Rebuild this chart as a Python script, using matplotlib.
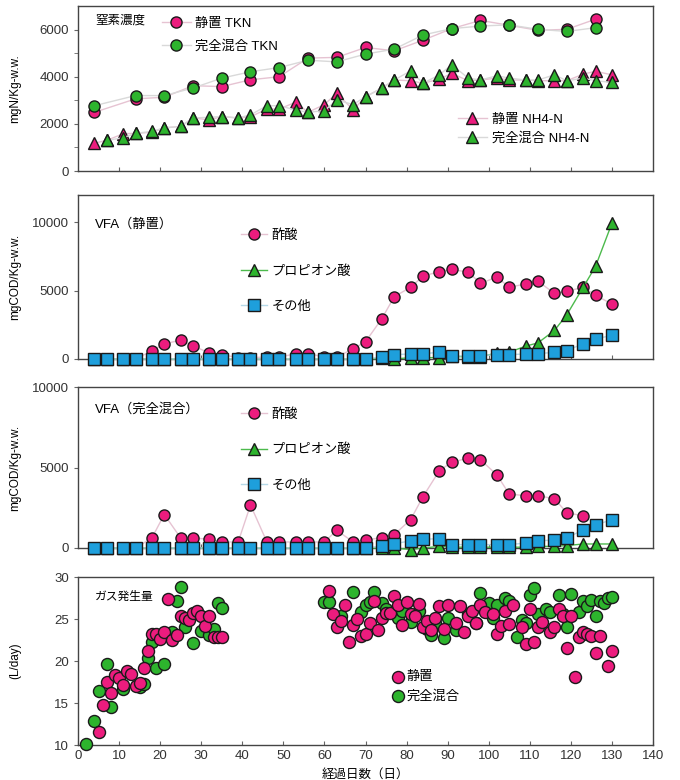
import matplotlib
matplotlib.use('Agg')
import matplotlib.pyplot as plt
import numpy as np
from matplotlib.lines import Line2D

plt.rcParams['font.family'] = ['Liberation Sans', 'Noto Sans CJK JP']
plt.rcParams['font.size'] = 9

############################################################
# data

# nitrogen (TKN weekly, NH4-N twice a week)
tkn_days = [4, 14, 21, 28, 35, 42, 49, 56, 63, 70, 77, 84, 91, 98, 105, 112, 119, 126]
tkn_static = [2490, 3060, 3130, 3620, 3580, 3870, 4000, 4790, 4820, 5240, 5100, 5550,
              6040, 6390, 6180, 5970, 6010, 6440]
tkn_mixed = [2770, 3200, 3200, 3520, 3940, 4210, 4390, 4700, 4630, 4960, 5170, 5770,
             6040, 6150, 6200, 6010, 5920, 6080]

days2 = [4, 7, 11, 14, 18, 21, 25, 28, 32, 35, 39, 42, 46, 49, 53, 56, 60, 63, 67, 70,
         74, 77, 81, 84, 88, 91, 95, 98, 102, 105, 109, 112, 116, 119, 123, 126, 130]
nh4_static = [1180, 1300, 1580, 1600, 1640, 1830, 1890, 2250, 2170, 2310, 2250, 2300,
              2630, 2630, 2920, 2490, 2820, 3300, 2590, 3150, 3520, 3860, 3830, 3720,
              3900, 4140, 3830, 3860, 3940, 3860, 3860, 3830, 3830, 3830, 4110, 4230, 4080]
nh4_mixed = [np.nan, 1300, 1410, 1600, 1680, 1830, 1890, 2250, 2280, 2310, 2250, 2380,
             2770, 2770, 2590, 2490, 2560, 3010, 2820, 3150, 3520, 3860, 4250, 3720,
             4080, 4510, 3940, 3860, 4040, 3940, 3860, 3860, 4080, 3830, 3940, 3830, 3760]

# VFA, static
acetic_static = [0, 0, 0, 0, 600, 1110, 1380, 960, 440, 320, 100, 100, 150, 150, 370,
                 390, 150, 150, 740, 1260, 2960, 4560, 5250, 6060, 6400, 6550, 6360,
                 5540, 5990, 5250, 5490, 5690, 4800, 4950, 5250, 4680, 4010]
propionic_static = [0, 0, 0, 0, 0, 0, 0, 0, 0, 0, 0, 0, 0, 0, 0, 0, 0, 0, 0, 0,
                    50, 0, 100, 100, 100, 200, 150, 150, 450, 500, 940, 1180, 2090,
                    3230, 5250, 6770, 9930]
other_static = [0, 0, 0, 0, 0, 0, 0, 0, 0, 0, 0, 0, 0, 0, 0, 0, 0, 0, 0, 0,
                150, 320, 370, 390, 490, 200, 250, 250, 320, 320, 370, 390, 490, 620,
                1110, 1480, 1720]

# VFA, completely mixed
acetic_mixed = [0, 0, 0, 0, 625, 2080, 625, 625, 540, 375, 375, 2670, 375, 375, 375,
                375, 375, 1100, 375, 520, 625, 830, 1770, 3190, 4810, 5330, 5580, 5480,
                4540, 3350, 3250, 3250, 3060, 2190, 2000, np.nan, np.nan]
propionic_mixed = [0, 0, 0, 0, 0, 0, 0, 0, 0, 0, 0, 0, 0, 0, 0, 0, 0, 0, 0, 0,
                   0, 0, -100, 0, 100, 50, 50, 50, 50, 50, 50, 100, 100, 150, 250, 250, 250]
other_mixed = [0, 0, 0, 0, 0, 0, 0, 0, 0, 0, 0, 0, 0, 0, 0, 0, 0, 0, 0, 0,
               125, 270, 440, 540, 580, 210, 210, 210, 210, 210, 310, 440, 500, 625,
               1125, 1440, 1750]

# gas production (L/day)
gas_static_days = [5, 6, 7, 8, 9, 10, 11, 12, 13, 14, 15, 16, 17, 18, 19, 20, 21, 22, 23,
                   24, 25, 26, 27, 28, 29, 30, 31, 32, 33, 34, 35,
                   61, 62, 63, 64, 65, 66, 67, 68, 69, 70, 71, 72, 73, 74, 75, 76, 77,
                   78, 79, 80, 81, 82, 83, 84, 85, 86, 87, 88, 89, 90, 92, 93, 94, 95,
                   96, 97, 98, 99, 101, 102, 103, 104, 105, 106, 108, 109, 110, 111,
                   112, 113, 115, 116, 117, 118, 119, 120, 121, 122, 123, 124, 125,
                   126, 127, 129, 130]
gas_static = [11.6, 14.8, 17.5, 16.2, 18.3, 18.0, 17.2, 18.8, 18.4, 17.0, 17.4, 19.2,
              21.2, 23.2, 23.2, 22.6, 23.4, 27.4, 22.5, 23.1, 25.4, 25.1, 24.9, 25.7,
              25.9, 25.4, 24.2, 25.3, 22.9, 22.8, 22.9,
              28.3, 25.6, 24.1, 24.8, 26.7, 22.3, 24.3, 25.0, 23.0, 23.2, 24.5, 27.1,
              23.7, 25.1, 25.7, 25.7, 27.7, 26.7, 24.3, 27.0, 25.6, 25.4, 26.8, 24.1,
              24.8, 23.7, 25.1, 26.6, 23.8, 26.7, 24.5, 26.5, 23.5, 25.4, 26.0, 24.5,
              26.7, 25.8, 25.6, 23.2, 24.2, 25.9, 24.4, 26.7, 24.1, 22.0, 26.2, 22.3,
              24.0, 24.7, 23.4, 24.0, 26.2, 25.4, 21.6, 25.3, 18.1, 22.9, 23.4, 23.2,
              23.0, 21.0, 23.0, 19.4, 21.2]
gas_mixed_days = [2, 4, 5, 7, 8, 11, 15, 16, 17, 18, 19, 21, 23, 24, 25, 26, 28, 30,
                  32, 33, 34, 35,
                  60, 61, 64, 67, 69, 70, 71, 72, 74, 75, 78, 79, 81, 83, 85, 86, 87,
                  89, 90, 92, 95, 97, 98, 100, 101, 102, 104, 105, 107, 108, 109, 110,
                  111, 112, 114, 115, 117, 118, 119, 120, 122, 123, 124, 125, 126, 127,
                  128, 129, 130]
gas_mixed = [10.1, 12.8, 16.4, 19.7, 14.5, 16.7, 16.9, 17.3, 20.4, 22.3, 19.2, 19.7,
             23.4, 27.1, 28.8, 24.0, 22.2, 23.6, 23.1, 23.8, 26.9, 26.3,
             27.0, 27.0, 25.3, 28.2, 25.8, 26.7, 27.0, 28.2, 26.9, 26.2, 25.1, 26.0,
             24.7, 25.9, 23.8, 23.1, 24.5, 22.7, 25.1, 23.7, 25.6, 24.5, 28.1, 26.9,
             25.1, 26.7, 27.5, 27.2, 22.8, 24.9, 24.5, 27.8, 28.7, 25.6, 26.2, 25.8,
             27.8, 25.6, 24.0, 28.0, 25.8, 27.1, 26.5, 27.3, 25.4, 27.1, 26.9, 27.5, 27.6]

############################################################
PINK = '#ec1c7e'
GREEN = '#2db42d'
BLUE = '#1e9fdc'
EDGE = '#1a1a1a'
LPINK = '#e6c3d2'
LGREEN = '#4cba4c'
LBLUE = '#b5d9e8'

W, H = 680., 780.
LEFT, RIGHT = 78, 653

fig = plt.figure(figsize=(6.8, 7.8), dpi=100)


def add_ax(top, bottom):
    ax = fig.add_axes([LEFT / W, 1 - bottom / H, (RIGHT - LEFT) / W, (bottom - top) / H])
    for s in ax.spines.values():
        s.set_color('#444444')
        s.set_linewidth(1.0)
    ax.set_xlim(0, 140)
    ax.tick_params(axis='x', direction='in', length=3, color='#666666', labelsize=9.5,
                   labelcolor='#333333')
    ax.tick_params(axis='y', direction='out', length=3, color='#666666', labelsize=9.5,
                   labelcolor='#333333')
    ax.yaxis.set_label_coords(-0.098, 0.5)
    return ax


def series(ax, x, y, marker, fc, lc, ms=8):
    return ax.plot(x, y, '-', color=lc, lw=1.0, marker=marker, ms=ms, mfc=fc,
                   mec=EDGE, mew=1.0, clip_on=False, zorder=3)[0]


# ---- panel 1: nitrogen
ax1 = add_ax(6, 171)
h1 = series(ax1, tkn_days, tkn_static, 'o', PINK, LPINK)
h2 = series(ax1, tkn_days, tkn_mixed, 'o', GREEN, '#d9d9d9')
h3 = series(ax1, days2, nh4_static, '^', PINK, LPINK, ms=9)
h4 = series(ax1, days2, nh4_mixed, '^', GREEN, '#d9d9d9', ms=9)
ax1.set_ylim(0, 7000)
ax1.set_yticks([0, 2000, 4000, 6000])
ax1.set_yticks(np.arange(0, 7000, 1000), minor=True)
ax1.tick_params(axis='y', which='minor', direction='out', length=3, color='#666666')
ax1.set_xticks(np.arange(10, 140, 10))
ax1.tick_params(axis='x', labelbottom=False)
ax1.set_ylabel('mgN/Kg-w.w.', fontsize=8.5)
ax1.text(0.03, 0.91, '窒素濃度', transform=ax1.transAxes, fontsize=9, va='center')
leg = ax1.legend([h1, h2], ['静置 TKN', '完全混合 TKN'], loc='upper left',
                 bbox_to_anchor=(0.125, 1.0), frameon=False, fontsize=9.5,
                 handlelength=2.2, handletextpad=0.35, labelspacing=0.75, borderpad=0.4)
ax1.add_artist(leg)
ax1.legend([h3, h4], ['静置 NH4-N', '完全混合 NH4-N'], loc='upper left',
           bbox_to_anchor=(0.64, 0.42), frameon=False, fontsize=9.5,
           handlelength=2.2, handletextpad=0.4, labelspacing=0.5, borderpad=0.4)

# ---- panel 2: VFA static
ax2 = add_ax(195, 359)
a1 = series(ax2, days2, acetic_static, 'o', PINK, LPINK)
a2 = series(ax2, days2, propionic_static, '^', GREEN, LGREEN, ms=9)
a3 = series(ax2, days2, other_static, 's', BLUE, LBLUE, ms=8)
ax2.set_ylim(0, 12000)
ax2.set_yticks([0, 5000, 10000])
ax2.set_xticks(np.arange(10, 140, 10))
ax2.tick_params(axis='x', labelbottom=False)
ax2.set_ylabel('mgCOD/Kg-w.w.', fontsize=8.5)
ax2.text(0.03, 0.82, 'VFA（静置）', transform=ax2.transAxes, fontsize=9.5, va='center')
ax2.legend([a1, a2, a3], ['酢酸', 'プロピオン酸', 'その他'], loc='upper left',
           bbox_to_anchor=(0.263, 0.865), frameon=False, fontsize=9.5,
           handlelength=2.0, handletextpad=0.3, labelspacing=1.75, borderpad=0.4)

# ---- panel 3: VFA completely mixed
ax3 = add_ax(387, 548)
b1 = series(ax3, days2, acetic_mixed, 'o', PINK, LPINK)
b2 = series(ax3, days2, propionic_mixed, '^', GREEN, LGREEN, ms=9)
b3 = series(ax3, days2, other_mixed, 's', BLUE, LBLUE, ms=8)
ax3.set_ylim(0, 10000)
ax3.set_yticks([0, 5000, 10000])
ax3.set_xticks(np.arange(10, 140, 10))
ax3.tick_params(axis='x', labelbottom=False)
ax3.set_ylabel('mgCOD/Kg-w.w.', fontsize=8.5)
ax3.text(0.03, 0.86, 'VFA（完全混合）', transform=ax3.transAxes, fontsize=9.5, va='center')
ax3.legend([b1, b2, b3], ['酢酸', 'プロピオン酸', 'その他'], loc='upper left',
           bbox_to_anchor=(0.263, 0.945), frameon=False, fontsize=9.5,
           handlelength=2.0, handletextpad=0.3, labelspacing=1.75, borderpad=0.4)

# ---- panel 4: gas production
ax4 = add_ax(577, 745)
g2 = ax4.scatter(gas_mixed_days, gas_mixed, s=75, c=GREEN, edgecolors=EDGE,
                 linewidths=1.0, zorder=3, clip_on=False)
g1 = ax4.scatter(gas_static_days, gas_static, s=75, c=PINK, edgecolors=EDGE,
                 linewidths=1.0, zorder=3, clip_on=False)
ax4.set_ylim(10, 30)
ax4.set_yticks([10, 15, 20, 25, 30])
ax4.set_xticks(np.arange(0, 150, 10))
ax4.set_ylabel('(L/day)', fontsize=8.5)
ax4.set_xlabel('経過日数（日）', fontsize=9, labelpad=5)
ax4.text(0.03, 0.88, 'ガス発生量', transform=ax4.transAxes, fontsize=8.5, va='center')
ax4.legend([g1, g2], ['静置', '完全混合'], loc='upper left',
           bbox_to_anchor=(0.525, 0.51), frameon=False, fontsize=9.5,
           handletextpad=0.1, labelspacing=0.5, borderpad=0.4, scatterpoints=1,
           handlelength=1.0)

fig.savefig('out.png', dpi=100)
